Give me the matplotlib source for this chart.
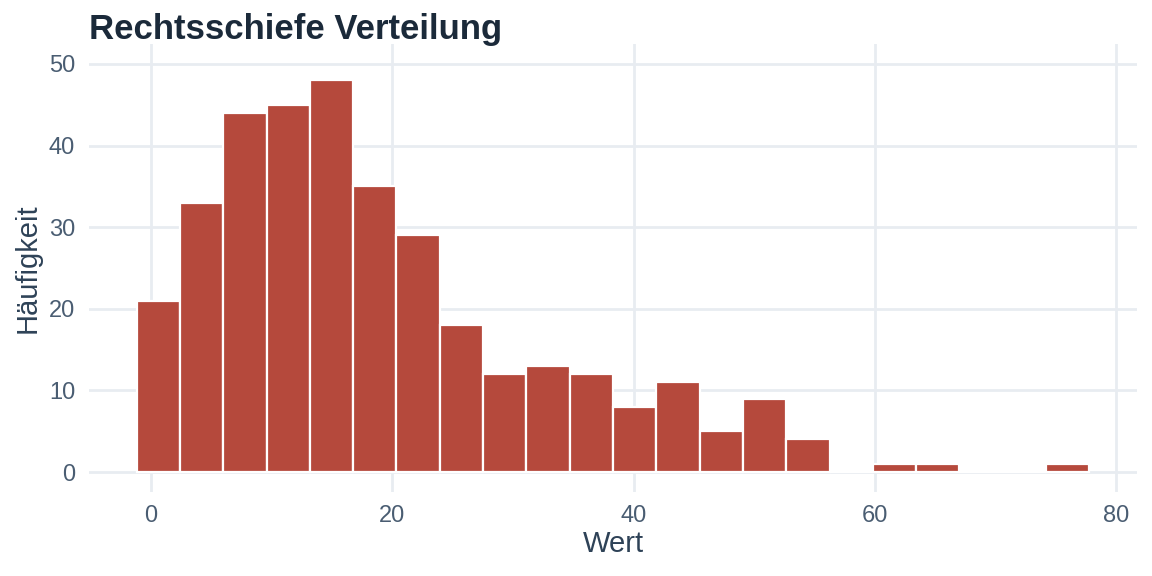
import numpy as np
import matplotlib
matplotlib.use("Agg")
import matplotlib.pyplot as plt

# Histogram counts (bin width ~3.59, first edge ~-1.16)
bin_start = -1.16
bin_width = 3.587
counts = [21, 33, 44, 45, 48, 35, 29, 18, 12, 13, 12, 8, 11, 5, 9, 4, 0, 1, 1, 0, 0, 1]
x_ticks = [0, 20, 40, 60, 80]
y_ticks = [0, 10, 20, 30, 40, 50]

title = "Rechtsschiefe Verteilung"
x_label = "Wert"
y_label = "Häufigkeit"

bar_color = "#B5493C"
grid_color = "#E8ECF1"
tick_color = "#4A5D72"
label_color = "#2E4257"
title_color = "#1B2A3A"

plt.rcParams['font.family'] = ['Liberation Sans', 'DejaVu Sans']

fig = plt.figure(figsize=(11.52, 5.76), dpi=100)
ax = fig.add_axes([89 / 1152, (576 - 491.6) / 576, (1137 - 89) / 1152, (491.6 - 44.4) / 576])

edges = bin_start + bin_width * np.arange(len(counts))
ax.bar(edges, counts, width=bin_width, align='edge', color=bar_color,
       edgecolor='white', linewidth=1.6, zorder=3)

lo = bin_start
hi = bin_start + bin_width * len(counts)
pad = (hi - lo) * 0.05
ax.set_xlim(lo - pad, hi + pad)
ax.set_ylim(-2.4, 52.4)

ax.set_xticks(x_ticks)
ax.set_yticks(y_ticks)
ax.grid(True, color=grid_color, linewidth=2.0, zorder=0)
ax.set_axisbelow(True)
for s in ax.spines.values():
    s.set_visible(False)
ax.tick_params(axis='x', length=0, labelsize=17, colors=tick_color, pad=10)
ax.tick_params(axis='y', length=0, labelsize=17, colors=tick_color, pad=10)

ax.set_xlabel(x_label, fontsize=21, color=label_color, labelpad=2)
ax.set_ylabel(y_label, fontsize=21, color=label_color, labelpad=5)

fig.text(89 / 1152, 1 - 29 / 576, title, fontsize=25, fontweight='bold',
         color=title_color, va='center', ha='left')

fig.savefig("out.png", dpi=100, facecolor='white')
